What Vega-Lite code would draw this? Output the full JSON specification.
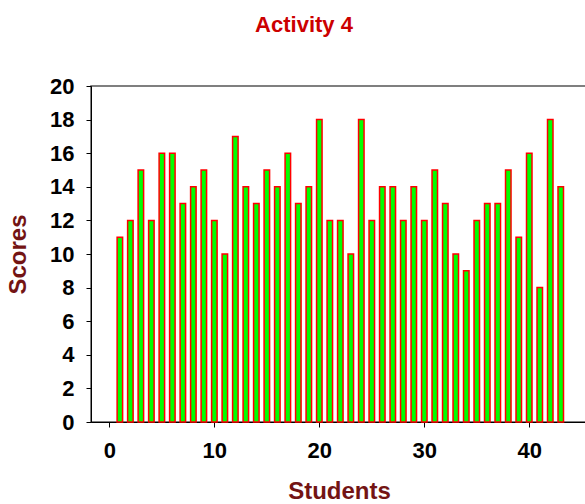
{
  "$schema": "https://vega.github.io/schema/vega-lite/v6.json",
  "autosize": {"type": "none"},
  "width": 496,
  "height": 336,
  "padding": {"left": 91, "top": 86, "right": 0, "bottom": 82},
  "background": "white",
  "title": {
    "text": "Activity 4",
    "font": "Liberation Sans",
    "fontSize": 22,
    "fontWeight": "bold",
    "color": "#cc0000",
    "anchor": "middle",
    "dx": -35,
    "offset": 38
  },
  "config": {
    "view": {"stroke": "#555555", "strokeWidth": 1.5},
    "axis": {
      "grid": false,
      "domainColor": "black",
      "tickColor": "black",
      "labelFont": "Liberation Sans",
      "labelFontWeight": "bold",
      "labelFontSize": 22,
      "labelColor": "black",
      "titleFont": "Liberation Sans",
      "titleFontWeight": "bold",
      "titleFontSize": 24,
      "titleColor": "#731414",
      "tickSize": 5
    }
  },
  "data": {
    "values": [
      {"student": 1, "score": 11}, {"student": 2, "score": 12}, {"student": 3, "score": 15},
      {"student": 4, "score": 12}, {"student": 5, "score": 16}, {"student": 6, "score": 16},
      {"student": 7, "score": 13}, {"student": 8, "score": 14}, {"student": 9, "score": 15},
      {"student": 10, "score": 12}, {"student": 11, "score": 10}, {"student": 12, "score": 17},
      {"student": 13, "score": 14}, {"student": 14, "score": 13}, {"student": 15, "score": 15},
      {"student": 16, "score": 14}, {"student": 17, "score": 16}, {"student": 18, "score": 13},
      {"student": 19, "score": 14}, {"student": 20, "score": 18}, {"student": 21, "score": 12},
      {"student": 22, "score": 12}, {"student": 23, "score": 10}, {"student": 24, "score": 18},
      {"student": 25, "score": 12}, {"student": 26, "score": 14}, {"student": 27, "score": 14},
      {"student": 28, "score": 12}, {"student": 29, "score": 14}, {"student": 30, "score": 12},
      {"student": 31, "score": 15}, {"student": 32, "score": 13}, {"student": 33, "score": 10},
      {"student": 34, "score": 9}, {"student": 35, "score": 12}, {"student": 36, "score": 13},
      {"student": 37, "score": 13}, {"student": 38, "score": 15}, {"student": 39, "score": 11},
      {"student": 40, "score": 16}, {"student": 41, "score": 8}, {"student": 42, "score": 18},
      {"student": 43, "score": 14}
    ]
  },
  "mark": {"type": "bar", "fill": "#00ff00", "stroke": "#ff0000", "strokeWidth": 1.5, "size": 5.5},
  "encoding": {
    "x": {
      "field": "student",
      "type": "quantitative",
      "scale": {"domain": [-1.75, 45.5], "nice": false, "zero": false, "padding": 0},
      "axis": {"values": [0, 10, 20, 30, 40], "title": "Students", "labelPadding": 13, "titlePadding": 18}
    },
    "y": {
      "field": "score",
      "type": "quantitative",
      "scale": {"domain": [0, 20], "nice": false},
      "axis": {"values": [0, 2, 4, 6, 8, 10, 12, 14, 16, 18, 20], "title": "Scores", "labelPadding": 12, "titlePadding": 19}
    }
  }
}
